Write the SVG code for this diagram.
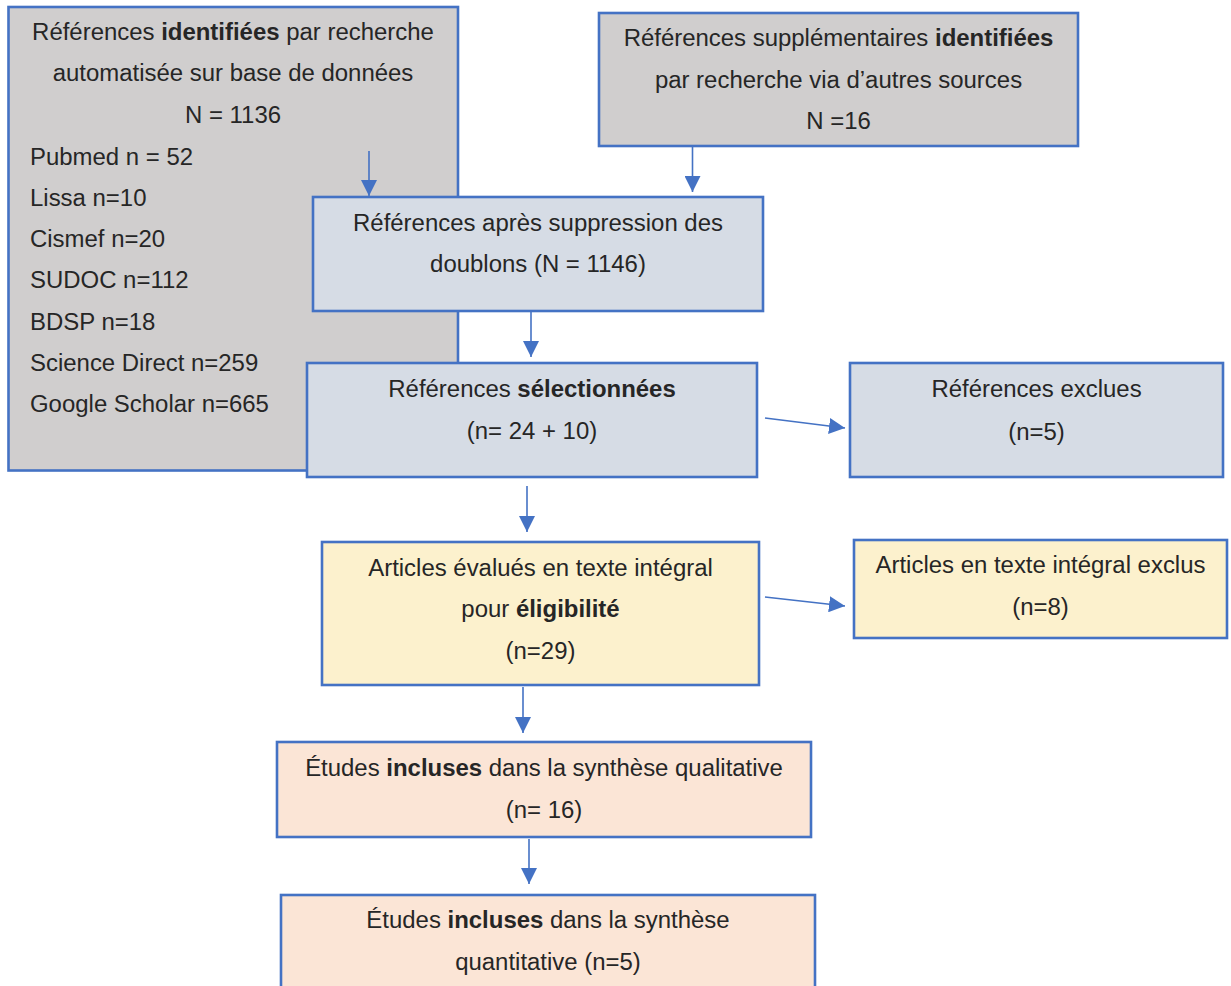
<svg xmlns="http://www.w3.org/2000/svg" width="1231" height="986" viewBox="0 0 1231 986">
<style>
  .box{stroke:#4472c4;stroke-width:2.6}
  .gray{fill:#d0cece}
  .blue{fill:#d6dce5}
  .yellow{fill:#fcf1cd}
  .peach{fill:#fbe5d6}
  text{font-family:"Liberation Sans",Arial,sans-serif;font-size:23.95px;fill:#262626}
  .c{text-anchor:middle}
  .b{font-weight:bold}
  .edge{stroke:#4472c4;stroke-width:1.6;fill:none;marker-end:url(#ah)}
</style>
<defs>
  <marker id="ah" viewBox="0 0 16 16" markerWidth="16" markerHeight="16" refX="16" refY="8" orient="auto" markerUnits="userSpaceOnUse">
    <path d="M0,0 L16,8 L0,16 Z" fill="#4472c4"/>
  </marker>
</defs>
<rect width="1231" height="986" fill="#ffffff"/>

<g id="n1">
  <rect class="box gray" x="8.5" y="7" width="449.5" height="463.5"/>
  <text class="c" x="233" y="40">Références <tspan class="b">identifiées</tspan> par recherche</text>
  <text class="c" x="233" y="81">automatisée sur base de données</text>
  <text class="c" x="233" y="123">N = 1136</text>
  <text x="30" y="165">Pubmed n = 52</text>
  <text x="30" y="206">Lissa n=10</text>
  <text x="30" y="247">Cismef n=20</text>
  <text x="30" y="288">SUDOC n=112</text>
  <text x="30" y="330">BDSP n=18</text>
  <text x="30" y="371">Science Direct n=259</text>
  <text x="30" y="412">Google Scholar n=665</text>
</g>

<g id="n2">
  <rect class="box gray" x="599" y="13" width="479" height="133"/>
  <text class="c" x="838.5" y="46">Références supplémentaires <tspan class="b">identifiées</tspan></text>
  <text class="c" x="838.5" y="88">par recherche via d’autres sources</text>
  <text class="c" x="838.5" y="129">N =16</text>
</g>

<g id="n3">
  <rect class="box blue" x="313" y="197" width="450" height="114"/>
  <text class="c" x="538" y="231">Références après suppression des</text>
  <text class="c" x="538" y="272">doublons (N = 1146)</text>
</g>

<g id="n4">
  <rect class="box blue" x="307" y="363" width="450" height="114"/>
  <text class="c" x="532" y="397">Références <tspan class="b">sélectionnées</tspan></text>
  <text class="c" x="532" y="439">(n= 24 + 10)</text>
</g>

<g id="n5">
  <rect class="box blue" x="850" y="363" width="373" height="114"/>
  <text class="c" x="1036.5" y="397">Références exclues</text>
  <text class="c" x="1036.5" y="440">(n=5)</text>
</g>

<g id="n6">
  <rect class="box yellow" x="322" y="542" width="437" height="143"/>
  <text class="c" x="540.5" y="576">Articles évalués en texte intégral</text>
  <text class="c" x="540.5" y="617">pour <tspan class="b">éligibilité</tspan></text>
  <text class="c" x="540.5" y="659">(n=29)</text>
</g>

<g id="n7">
  <rect class="box yellow" x="854" y="540" width="373" height="98"/>
  <text class="c" x="1040.5" y="573">Articles en texte intégral exclus</text>
  <text class="c" x="1040.5" y="615">(n=8)</text>
</g>

<g id="n8">
  <rect class="box peach" x="277" y="742" width="534" height="95"/>
  <text class="c" x="544" y="776">Études <tspan class="b">incluses</tspan> dans la synthèse qualitative</text>
  <text class="c" x="544" y="818">(n= 16)</text>
</g>

<g id="n9">
  <rect class="box peach" x="281" y="895" width="534" height="100"/>
  <text class="c" x="548" y="928">Études <tspan class="b">incluses</tspan> dans la synthèse</text>
  <text class="c" x="548" y="970">quantitative (n=5)</text>
</g>

<g id="connectors">
  <line class="edge" x1="369" y1="151" x2="369" y2="196"/>
  <line class="edge" x1="692.5" y1="147" x2="692.5" y2="192"/>
  <line class="edge" x1="531" y1="312" x2="531" y2="357"/>
  <line class="edge" x1="765" y1="418" x2="845" y2="428"/>
  <line class="edge" x1="527" y1="486" x2="527" y2="532"/>
  <line class="edge" x1="765" y1="597" x2="845" y2="606"/>
  <line class="edge" x1="523" y1="687" x2="523" y2="733"/>
  <line class="edge" x1="529" y1="839" x2="529" y2="884"/>
</g>
</svg>
